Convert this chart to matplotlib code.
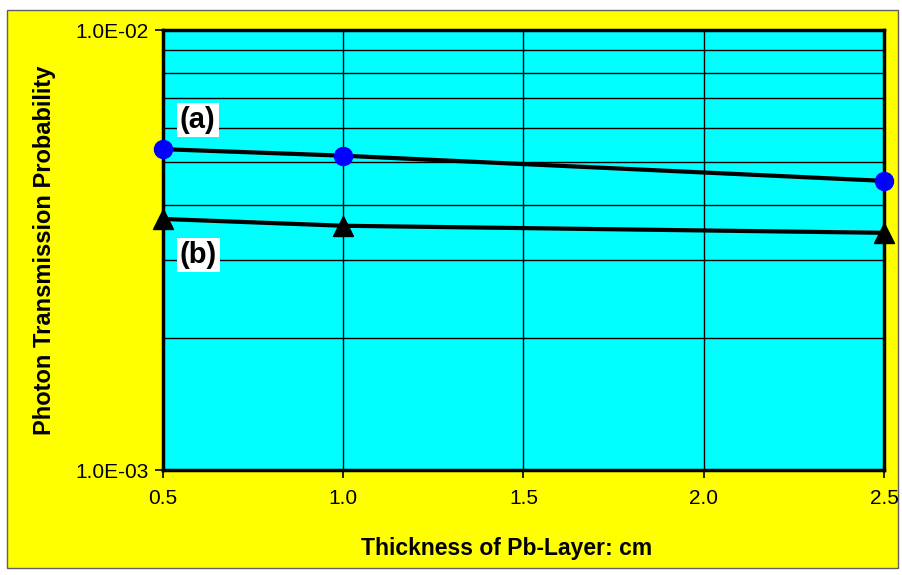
import matplotlib
matplotlib.use("Agg")
import matplotlib.pyplot as plt
import matplotlib.ticker as mticker
from matplotlib.patches import Rectangle

# data
thickness = [0.5, 1.0, 2.5]
prob_a = [5.36e-3, 5.18e-3, 4.54e-3]
prob_b = [3.72e-3, 3.59e-3, 3.46e-3]
x_ticks = [0.5, 1.0, 1.5, 2.0, 2.5]
x_labels = ["0.5", "1.0", "1.5", "2.0", "2.5"]

plt.rcParams['font.family'] = ['Liberation Sans', 'DejaVu Sans']

fig = plt.figure(figsize=(9.03, 5.75), dpi=100)
fig.patch.set_facecolor('white')
fig.patches.append(Rectangle((7/903, 1 - 568/575), 891/903, 558/575,
                             transform=fig.transFigure, facecolor='#ffff00',
                             edgecolor='#606060', linewidth=1, zorder=-10))

ax = fig.add_axes([163/903, 105/575, 721/903, 440/575])
ax.set_facecolor('#00ffff')
ax.set_yscale('log')
ax.set_ylim(1e-3, 1e-2)
ax.set_xlim(0.5, 2.5)

ax.plot(thickness, prob_a, color='black', lw=3, marker='o', ms=13,
        mfc='#0000ff', mec='#0000ff', zorder=5, clip_on=False)
ax.plot(thickness, prob_b, color='black', lw=3, marker='^', ms=14,
        mfc='black', mec='black', zorder=5, clip_on=False)

ax.set_xticks(x_ticks)
ax.set_xticklabels(x_labels)
ax.yaxis.set_major_locator(mticker.FixedLocator([1e-3, 1e-2]))
ax.yaxis.set_major_formatter(mticker.FixedFormatter(["1.0E-03", "1.0E-02"]))
ax.yaxis.set_minor_locator(mticker.LogLocator(base=10, subs=range(2, 10)))
ax.yaxis.set_minor_formatter(mticker.NullFormatter())
ax.tick_params(axis='y', which='minor', length=0)
ax.tick_params(axis='both', which='major', direction='out', length=6,
               width=1.2, labelsize=15, pad=4)
ax.tick_params(axis='x', pad=8)

ax.grid(True, which='both', axis='y', color='black', lw=1)
ax.grid(True, which='major', axis='x', color='black', lw=1)
ax.set_axisbelow(True)
for s in ax.spines.values():
    s.set_linewidth(2.5)

ax.set_xlabel("Thickness of Pb-Layer: cm", fontsize=16.5, fontweight='bold')
ax.xaxis.set_label_coords(0.477, -0.152)
ax.set_ylabel("Photon Transmission Probability", fontsize=17, fontweight='bold')
ax.yaxis.set_label_coords(-0.148, 0.5)

ax.text(0.547, 6.24e-3, "(a)", fontsize=21, fontweight='bold', ha='left', va='center',
        bbox=dict(facecolor='white', edgecolor='none', pad=2), zorder=6)
ax.text(0.547, 3.08e-3, "(b)", fontsize=21, fontweight='bold', ha='left', va='center',
        bbox=dict(facecolor='white', edgecolor='none', pad=2), zorder=6)

fig.savefig("out.png", dpi=100)
